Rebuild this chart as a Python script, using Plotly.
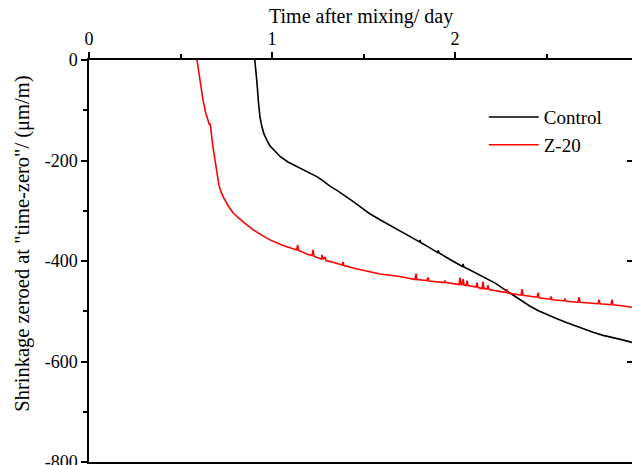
import plotly.graph_objects as go

# Free shrinkage after mixing, zeroed at "time-zero"
control_day = [0.906, 0.912, 0.918, 0.925, 0.934, 0.945, 0.956, 0.971, 0.989, 1.016,
               1.044, 1.087, 1.135, 1.180, 1.224, 1.250, 1.273, 1.295, 1.317, 1.361,
               1.404, 1.448, 1.481, 1.530, 1.590, 1.645, 1.699, 1.754, 1.806, 1.809,
               1.812, 1.863, 1.905, 1.909, 1.913, 1.973, 2.027, 2.040, 2.044, 2.048,
               2.082, 2.137, 2.178, 2.219, 2.268, 2.317, 2.366, 2.410, 2.456, 2.503,
               2.557, 2.612, 2.683, 2.754, 2.809, 2.863, 2.915, 2.967]
control_strain = [0, -20, -46, -80, -113, -133, -147, -159, -171, -181,
                  -192, -203, -212, -220, -228, -233, -239, -245, -251, -261,
                  -271, -283, -292, -305, -318, -329, -340, -351, -362, -358,
                  -363, -374, -383, -379, -384, -397, -408, -411, -406, -412,
                  -418, -428, -436, -444, -456, -468, -479, -490, -499, -507,
                  -515, -523, -533, -542, -548, -552, -557, -562]

z20_day = [0.590, 0.607, 0.623, 0.639, 0.650, 0.658, 0.662, 0.665, 0.669, 0.674,
           0.679, 0.689, 0.698, 0.710, 0.722, 0.734, 0.760, 0.789, 0.842, 0.898,
           0.945, 0.989, 1.060, 1.130, 1.135, 1.140, 1.146, 1.197, 1.219, 1.224,
           1.230, 1.262, 1.270, 1.273, 1.279, 1.290, 1.295, 1.328, 1.383, 1.388,
           1.393, 1.454, 1.536, 1.590, 1.700, 1.781, 1.787, 1.792, 1.847, 1.852,
           1.858, 1.940, 1.945, 1.951, 2.022, 2.027, 2.033, 2.038, 2.044, 2.049,
           2.060, 2.066, 2.071, 2.115, 2.120, 2.126, 2.148, 2.153, 2.158, 2.175,
           2.180, 2.186, 2.279, 2.284, 2.290, 2.361, 2.366, 2.372, 2.448, 2.454,
           2.459, 2.519, 2.525, 2.530, 2.596, 2.601, 2.607, 2.672, 2.678, 2.683,
           2.781, 2.787, 2.792, 2.852, 2.858, 2.863, 2.910, 2.967]
z20_strain = [0, -40, -80, -107, -121, -129, -126, -133, -148, -163,
              -177, -201, -225, -249, -263, -273, -290, -305, -322, -338,
              -349, -358, -369, -377, -378, -368, -379, -387, -389, -378,
              -391, -395, -396, -388, -397, -392, -399, -402, -408, -402,
              -409, -415, -421, -426, -431, -437, -425, -437, -439, -433,
              -440, -443, -439, -443, -447, -433, -447, -447, -436, -448,
              -449, -439, -449, -452, -443, -453, -455, -441, -455, -456,
              -448, -457, -463, -456, -464, -468, -456, -468, -472, -463,
              -473, -476, -471, -477, -479, -476, -480, -482, -472, -482,
              -485, -477, -485, -487, -477, -487, -489, -492]

x_ticks = [0, 1, 2]
y_ticks = [0, -200, -400, -600, -800]
x_range = [0, 2.967]
y_range = [-800, 0]

FONT = "Liberation Serif"

fig = go.Figure()
fig.add_trace(go.Scatter(x=control_day, y=control_strain, mode="lines", name="Control",
                         line=dict(color="#000000", width=1.6)))
fig.add_trace(go.Scatter(x=z20_day, y=z20_strain, mode="lines", name="Z-20",
                         line=dict(color="#ff0000", width=1.6)))
# right-hand axis carrying only inward ticks
fig.add_trace(go.Scatter(x=[None], y=[None], yaxis="y2", showlegend=False, hoverinfo="skip"))

fig.update_layout(
    width=632, height=465,
    margin=dict(l=89, r=0, t=60, b=3),
    paper_bgcolor="white", plot_bgcolor="white",
    font=dict(family=FONT, size=18, color="black"),
    showlegend=True,
    legend=dict(x=0.727, y=0.905, xanchor="left", yanchor="top",
                bgcolor="rgba(0,0,0,0)", font=dict(family=FONT, size=19),
                itemwidth=50, tracegroupgap=0),
    xaxis=dict(
        side="top", range=x_range, tickvals=x_ticks, ticktext=[str(v) for v in x_ticks],
        ticks="outside", ticklen=6, tickwidth=1.5, tickcolor="black",
        minor=dict(dtick=0.5, ticks="outside", ticklen=4, tickwidth=1.5, tickcolor="black"),
        showline=True, linecolor="black", linewidth=1.5, mirror=True,
        showgrid=False, zeroline=False, automargin=False,
        tickfont=dict(family=FONT, size=18),
    ),
    yaxis=dict(
        range=y_range, tickvals=y_ticks, ticktext=[str(v) for v in y_ticks],
        ticks="outside", ticklen=6, tickwidth=1.5, tickcolor="black",
        minor=dict(dtick=100, ticks="outside", ticklen=4, tickwidth=1.5, tickcolor="black"),
        showline=True, linecolor="black", linewidth=1.5, mirror=False,
        showgrid=False, zeroline=False, ticklabeloverflow="allow", automargin=False,
        tickfont=dict(family=FONT, size=18),
    ),
    yaxis2=dict(
        overlaying="y", side="right", range=y_range, tickvals=y_ticks,
        ticks="inside", ticklen=5, tickwidth=1.5, tickcolor="black",
        showticklabels=False, showline=False, showgrid=False, zeroline=False,
        automargin=False,
    ),
    annotations=[
        dict(text="Time after mixing/ day",
             xref="paper", yref="paper", x=0.5, y=1.107,
             xanchor="center", yanchor="middle", showarrow=False,
             font=dict(family=FONT, size=20, color="black")),
        dict(text='Shrinkage zeroed at "time-zero"/ (μm/m)', textangle=-90,
             xref="paper", yref="paper", x=-0.123, y=0.5435,
             xanchor="center", yanchor="middle", showarrow=False,
             font=dict(family=FONT, size=20.5, color="black")),
    ],
)

fig.write_html("out.html")
